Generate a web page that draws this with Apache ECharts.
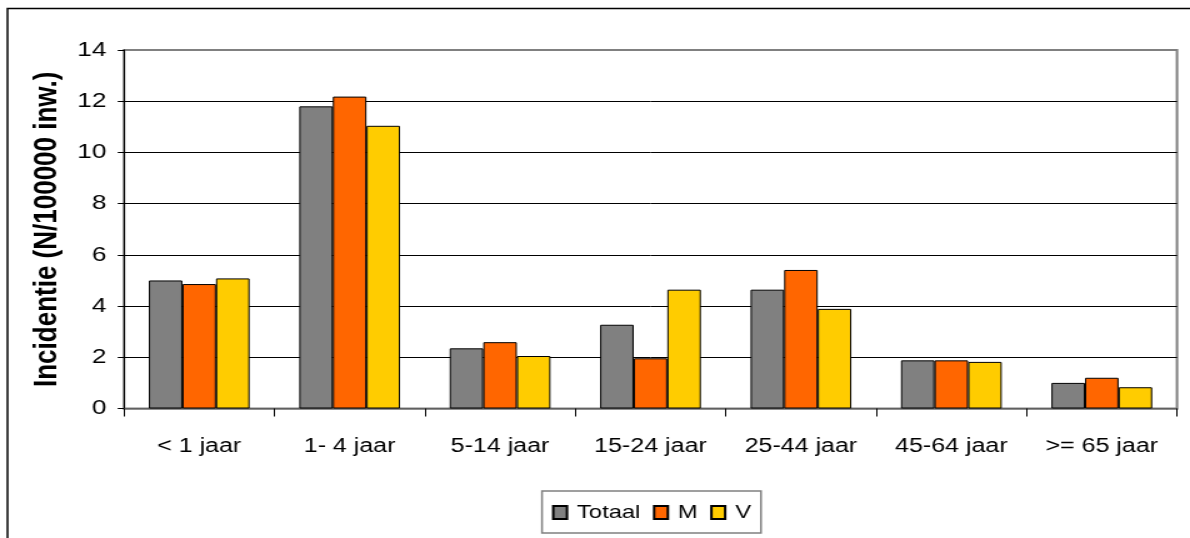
<!DOCTYPE html>
<html>
<head>
<meta charset="utf-8">
<script src="https://cdn.jsdelivr.net/npm/echarts@6/dist/echarts.min.js"></script>
<style>
html,body{margin:0;padding:0;background:#fff;overflow:hidden;}
#wrap{width:1190px;height:538px;overflow:hidden;}
#main{width:952px;height:538px;transform:scaleX(1.25);transform-origin:0 0;}
</style>
</head>
<body>
<div id="wrap"><div id="main"></div></div>
<script>
const categories = ['< 1 jaar', '1- 4 jaar', '5-14 jaar', '15-24 jaar', '25-44 jaar', '45-64 jaar', '>= 65 jaar'];
const totaal = [5.0, 11.8, 2.35, 3.27, 4.64, 1.88, 1.0];
const mannen = [4.86, 12.18, 2.59, 1.96, 5.41, 1.88, 1.2];
const vrouwen = [5.08, 11.04, 2.05, 4.64, 3.89, 1.82, 0.83];
const yTicks = [0, 2, 4, 6, 8, 10, 12, 14];
const seriesNames = ['Totaal', 'M', 'V'];

const chart = echarts.init(document.getElementById('main'), null, {renderer: 'canvas'});
const font = "'Liberation Sans', Arial, sans-serif";
const gridColors = yTicks.map((t, i) => i === yTicks.length - 1 ? '#808080' : '#000000');

const barStyle = (c) => ({color: c, borderColor: '#000', borderWidth: 1});

chart.setOption({
  animation: false,
  textStyle: {fontFamily: font},
  graphic: [{
    type: 'rect',
    shape: {x: 6, y: 8.5, width: 1300, height: 700},
    style: {fill: 'none', stroke: '#000', lineWidth: 1.5},
    silent: true
  }],
  grid: {
    left: 99.2, right: 10.4, top: 50, bottom: 129.5,
    show: true, borderColor: '#808080', borderWidth: 2
  },
  legend: {
    data: seriesNames,
    left: 433.6, top: 491,
    padding: [12, 8, 11, 8],
    itemWidth: 11, itemHeight: 13,
    itemGap: 10,
    borderColor: '#808080', borderWidth: 1.5,
    icon: 'rect',
    textStyle: {fontFamily: font, fontSize: 19, color: '#000', padding: [0, 0, 0, 3]}
  },
  xAxis: {
    type: 'category',
    data: categories,
    axisLine: {lineStyle: {color: '#808080', width: 1.5}},
    axisTick: {show: true, length: 8, lineStyle: {color: '#000'}},
    axisLabel: {fontFamily: font, fontSize: 20, color: '#000', margin: 28}
  },
  yAxis: {
    type: 'value',
    min: 0, max: 14, interval: 2,
    name: 'Incidentie (N/100000 inw.)',
    nameLocation: 'middle',
    nameGap: 48,
    nameTextStyle: {fontFamily: font, fontSize: 26, fontWeight: 'bold', color: '#000'},
    axisLine: {show: true, lineStyle: {color: '#000', width: 1}},
    axisTick: {show: true, length: 5, lineStyle: {color: '#000'}},
    axisLabel: {fontFamily: font, fontSize: 21, color: '#000', margin: 14},
    splitLine: {show: true, lineStyle: {color: gridColors, width: 1}}
  },
  series: [
    {name: 'Totaal', type: 'bar', data: totaal, barGap: '0%', barCategoryGap: '33%', itemStyle: barStyle('#808080')},
    {name: 'M', type: 'bar', data: mannen, barGap: '0%', barCategoryGap: '33%', itemStyle: barStyle('#FF6600')},
    {name: 'V', type: 'bar', data: vrouwen, barGap: '0%', barCategoryGap: '33%', itemStyle: barStyle('#FFCC00')}
  ]
});
</script>
</body>
</html>
